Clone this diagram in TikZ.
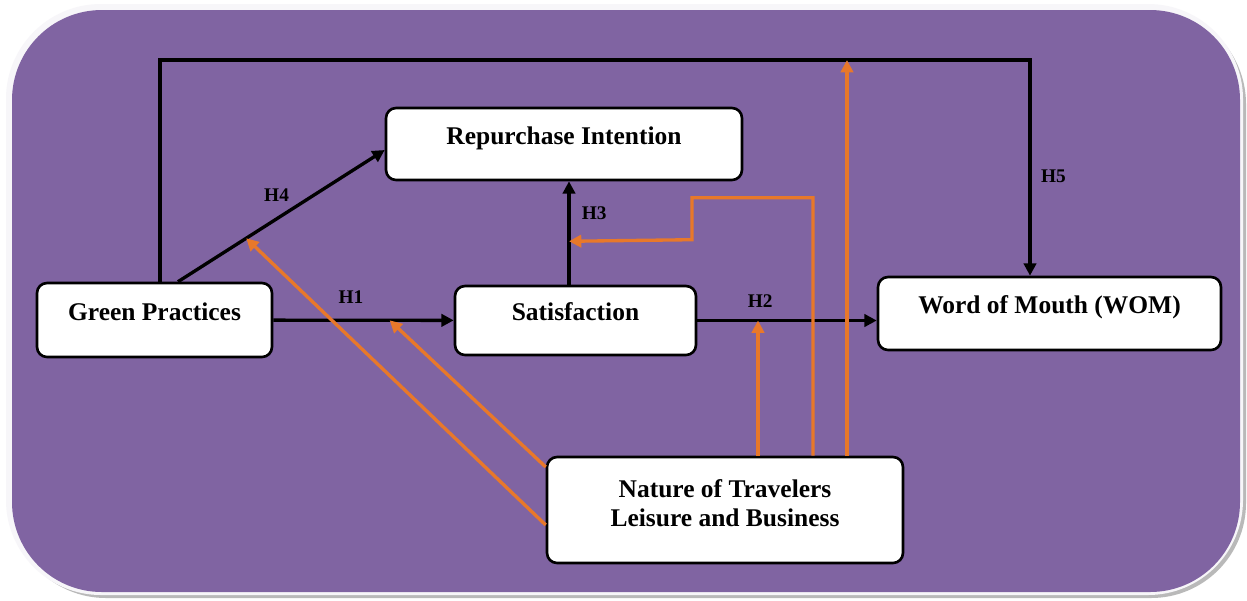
\documentclass[tikz,border=0pt]{standalone}
\usepackage{fontspec}
\setmainfont{Liberation Serif}
\usepackage{xcolor}
\definecolor{bgpurple}{HTML}{8064A2}
\definecolor{modorange}{HTML}{E8782A}
\usetikzlibrary{arrows.meta}

\begin{document}
\begin{tikzpicture}[x=0.02cm,y=-0.02cm,>={Triangle[length=7pt,width=7pt]},line width=1.9pt]
            \tikzstyle{box}=[draw=black,fill=white,rounded corners=0.2cm,line width=1.5pt,font=\fontsize{14.5}{17}\selectfont\bfseries]
            \tikzstyle{box1}=[box,text height=7.5pt,text depth=7pt]
            \tikzstyle{be}=[->,color=black]
            \tikzstyle{mod}=[->,color=modorange]
            \tikzstyle{hyp}=[font=\fontsize{11}{13}\selectfont\bfseries,text=black]

            % background panel
            \fill[white] (0,0) rectangle (1247,600);
            \fill[gray!55,rounded corners=1.9cm] (11,9) rectangle (1246,598);
            \fill[white!94!bgpurple,rounded corners=1.9cm] (6,4) rectangle (1243,595);
            \fill[bgpurple,rounded corners=1.8cm] (12,10) rectangle (1240,592);

            \node[box1,minimum width=4.7cm,minimum height=1.48cm]  (gp)  at (154.5,320) {Green Practices};
            \node[box1,minimum width=7.12cm,minimum height=1.44cm] (ri)  at (564,144)   {Repurchase Intention};
            \node[box1,minimum width=4.82cm,minimum height=1.38cm] (sat) at (575.5,320.5) {Satisfaction};
            \node[box1,minimum width=6.86cm,minimum height=1.46cm] (wom) at (1049.5,313.5) {Word of Mouth (WOM)};
            \node[box,align=center,minimum width=7.12cm,minimum height=2.12cm] (nat) at (725,510) {Nature of Travelers\\Leisure and Business\\[-9pt]};

            \coordinate (top) at (0,60);
            \coordinate (h5s) at ([xshift=0.11cm]gp.north);
            \coordinate (h5e) at ([xshift=-0.39cm]wom.north);
            \coordinate (h4s) at ([xshift=0.47cm]gp.north);
            \coordinate (h3s) at ([xshift=-0.13cm]sat.north);

            \path (gp)  edge [be] node[hyp,pos=0.43,above=5pt] {H1} node[coordinate,pos=0.645] (m1) {} (sat)
                  (sat.east) edge [be] node[hyp,pos=0.35,above=3pt] {H2} node[coordinate,pos=0.335] (m2) {} (sat.east -| wom.west)
                  (h3s) edge [be] node[hyp,pos=0.69,right=3pt] {H3} node[coordinate,pos=0.42] (m3) {} (h3s |- ri.south)
                  (h4s) edge [be] node[hyp,pos=0.53,xshift=-0.22cm,yshift=0.34cm] {H4} node[coordinate,pos=0.33] (m4) {} ([yshift=-0.12cm]ri.west);
            \draw[be] (h5s) |- (top -| h5e) -- node[hyp,pos=0.54,right=2pt] {H5} (h5e);

            % moderator
            \coordinate (o2) at ([xshift=0.66cm]nat.north);
            \coordinate (o3) at ([xshift=1.76cm]nat.north);
            \coordinate (o5) at ([xshift=2.44cm]nat.north);
            \draw[mod] ([yshift=0.86cm]nat.west) -- (m1);
            \draw[mod] ([yshift=-0.3cm]nat.west) -- (m4);
            \draw[mod] (o2) -- (o2 |- m2);
            \draw[mod] (o3) -- ++(0,-258) -| ++(-121,42) -- (m3);
            \draw[mod] (o5) -- (o5 |- top);

\end{tikzpicture}
\end{document}
